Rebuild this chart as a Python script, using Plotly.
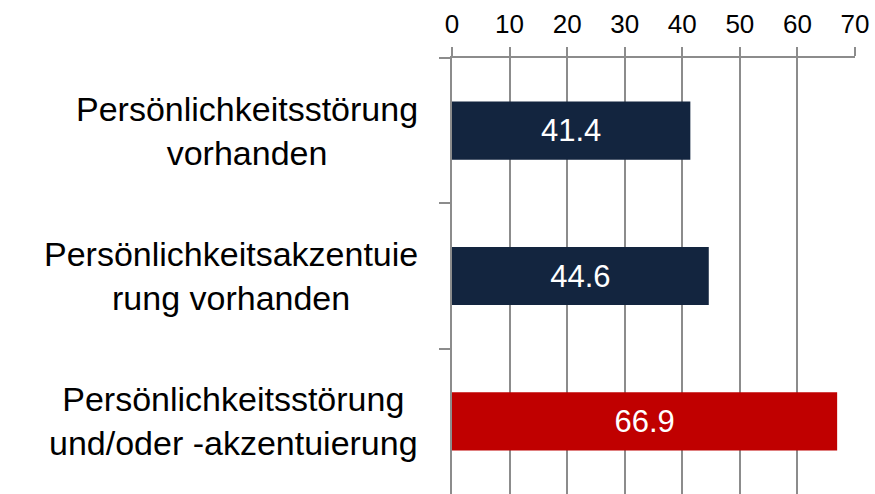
import plotly.graph_objects as go

categories = ["Persönlichkeitsstörung<br>vorhanden",
              "Persönlichkeitsakzentuie<br>rung vorhanden",
              "Persönlichkeitsstörung<br>und/oder -akzentuierung"]
values = [41.4, 44.6, 66.9]
colors = ["#13253F", "#13253F", "#C00000"]
tick_vals = [0, 10, 20, 30, 40, 50, 60, 70]

FONT = "Liberation Sans, Arial, sans-serif"
GRID = "#8C8C8C"

fig = go.Figure(go.Bar(
    x=values, y=categories, orientation="h",
    marker=dict(color=colors, line=dict(width=0)),
    width=0.4,
    text=[f"{v:.1f}" for v in values],
    textposition="inside", insidetextanchor="middle",
    textfont=dict(color="white", size=31, family=FONT),
    hoverinfo="skip",
))

for c in categories:
    fig.add_annotation(x=0, xref="paper", y=c, yref="y", text=c,
                       showarrow=False, xanchor="right", yanchor="middle",
                       align="center", xshift=-32,
                       font=dict(size=34, color="black", family=FONT))

fig.update_xaxes(side="top", range=[0, 70], tickvals=tick_vals,
                 showgrid=True, gridcolor=GRID, gridwidth=2,
                 showline=True, linecolor=GRID, linewidth=2,
                 ticks="outside", ticklen=9, tickcolor=GRID, tickwidth=2,
                 tickfont=dict(size=26, color="black", family=FONT),
                 ticklabelstandoff=4, zeroline=False, fixedrange=True)
fig.update_yaxes(autorange="reversed", showticklabels=False,
                 showline=True, linecolor=GRID, linewidth=2,
                 ticks="outside", ticklen=11, tickcolor=GRID, tickwidth=2,
                 tickson="boundaries", showgrid=False, fixedrange=True)

fig.update_layout(width=875, height=494,
                  margin=dict(l=452, r=20, t=58, b=0),
                  plot_bgcolor="white", paper_bgcolor="white",
                  showlegend=False, bargap=0.6)

fig.write_html("out.html", config={"displayModeBar": False},
               post_script="document.body.style.margin='0';document.body.style.overflow='hidden';")
